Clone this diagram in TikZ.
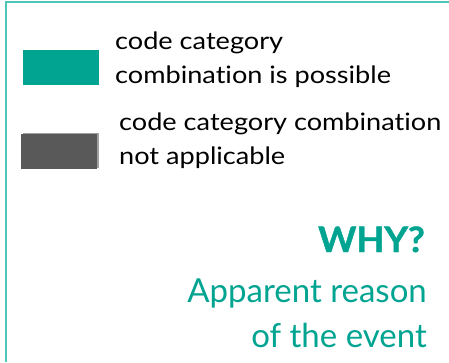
\documentclass[tikz,border=0pt]{standalone}
\usepackage{fontspec}
\setmainfont{Lato}[Ligatures=NoCommon]
\newfontfamily\legendfont{Lato}[FakeStretch=1.13, Ligatures=NoCommon]
\newfontfamily\whyfont{Lato}[UprightFont=*-Bold, FakeBold=1.2, FakeStretch=1.04]
\definecolor{frameteal}{HTML}{4FC5B8}
\definecolor{boxteal}{HTML}{00A491}
\definecolor{boxgray}{HTML}{595959}
\definecolor{shadegray}{HTML}{A0A0A0}
\begin{document}
\begin{tikzpicture}[x=1pt,y=-1pt,
  legendbox/.style={inner sep=0pt, minimum width=76pt, minimum height=35pt},
  legendtext/.style={anchor=base west, inner sep=0pt, align=left, font=\legendfont\fontsize{24}{34}\selectfont},
  whytext/.style={anchor=base east, inner sep=0pt, text=boxteal}]
\useasboundingbox (0,0) rectangle (449,362);
\draw[frameteal, line width=2pt] (449,2) -- (6,2) -- (6,362);
\node[legendbox, fill=boxteal] (possible) at (61,67.5) {};
\node[legendbox, fill=shadegray] (nashade) at (61,150) {};
\node[legendbox, fill=boxgray] (na) at (59,151.5) {};
\node[legendtext] (t1) at (115,83) {code category\\combination is possible};
\node[legendtext] (t2) at (119,164) {code category combination\\not applicable};
\node[whytext, font=\whyfont\fontsize{35}{35}\selectfont] (why) at (425,252) {WHY?};
\node[whytext, font=\fontsize{33}{45}\selectfont, align=right] (reason) at (427,347) {Apparent reason\\of the event};
\end{tikzpicture}
\end{document}
